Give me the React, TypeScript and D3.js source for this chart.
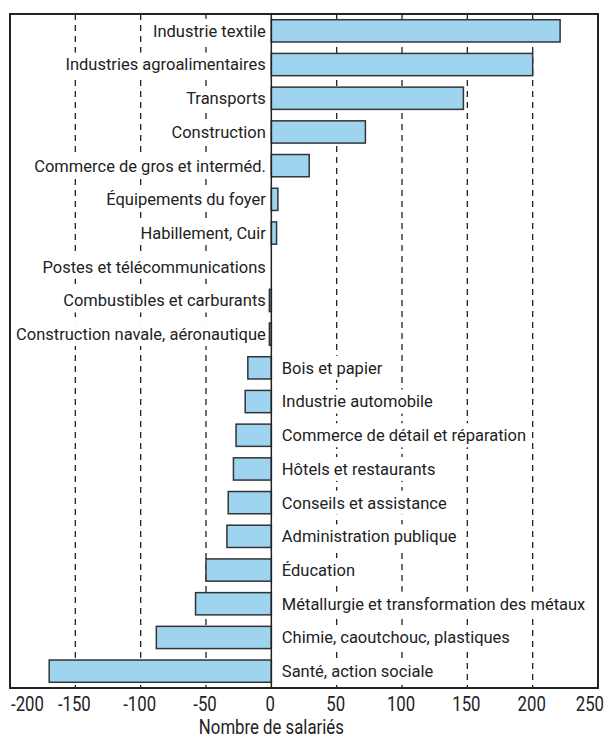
import React, { useLayoutEffect, useRef, useState } from "react";
import * as d3 from "d3";

const categories = [
  "Industrie textile",
  "Industries agroalimentaires",
  "Transports",
  "Construction",
  "Commerce de gros et interméd.",
  "Équipements du foyer",
  "Habillement, Cuir",
  "Postes et télécommunications",
  "Combustibles et carburants",
  "Construction navale, aéronautique",
  "Bois et papier",
  "Industrie automobile",
  "Commerce de détail et réparation",
  "Hôtels et restaurants",
  "Conseils et assistance",
  "Administration publique",
  "Éducation",
  "Métallurgie et transformation des métaux",
  "Chimie, caoutchouc, plastiques",
  "Santé, action sociale",
];
const values = [221, 200, 147, 72, 29, 5, 4, 0, -1.5, -1.5, -18, -20, -27, -29, -33, -34, -50, -58, -88, -170];
const xTicks = [-200, -150, -100, -50, 0, 50, 100, 150, 200, 250];
const xTitle = "Nombre de salariés";

const W = 606;
const H = 739;
const left = 10;
const right = 598;
const top = 14;
const bottom = 688;
const FONT = "Roboto, 'Liberation Sans', sans-serif";

export default function App() {
  const x = d3.scaleLinear().domain([-200, 250]).range([left, right]);
  const y = d3.scaleBand<string>().domain(categories).range([top, bottom]).paddingInner(0.34).paddingOuter(0.17);
  const x0 = x(0);
  const textRefs = useRef<(SVGTextElement | null)[]>([]);
  const [widths, setWidths] = useState<number[]>([]);
  useLayoutEffect(() => {
    setWidths(textRefs.current.map((t) => (t ? t.getComputedTextLength() : 0)));
  }, []);
  const leftLabel = (v: number) => v > -5;
  return (
    <svg width={W} height={H} style={{ position: "absolute", left: 0, top: 0 }}>
      <rect x={0} y={0} width={W} height={H} fill="#fff" />
      {xTicks
        .filter((t) => t !== 0 && t !== -200 && t !== 250)
        .map((t) => (
          <line key={t} x1={x(t)} x2={x(t)} y1={top} y2={bottom} stroke="#222" strokeWidth={1.3} strokeDasharray="6,5" />
        ))}
      {categories.map((c, i) => {
        const v = values[i];
        const yy = y(c)!;
        const bh = y.bandwidth();
        const cy = yy + bh / 2;
        const isLeft = leftLabel(v);
        const tx = isLeft ? x0 - 5.5 : x0 + 10.5;
        const w = widths[i] || 0;
        return (
          <g key={c}>
            {w > 0 && (
              <rect
                x={isLeft ? tx - w - 3 : x0 + 1}
                y={cy - 12}
                width={isLeft ? w + 3 : w + 13}
                height={24}
                fill="#fff"
              />
            )}
            <text
              ref={(el) => {
                textRefs.current[i] = el;
              }}
              x={tx}
              y={cy}
              dy="0.36em"
              textAnchor={isLeft ? "end" : "start"}
              fontFamily={FONT}
              fontSize={16.5}
              fill="#222"
            >
              {c}
            </text>
          </g>
        );
      })}
      {categories.map((c, i) => {
        const v = values[i];
        if (v === 0) return null;
        const yy = y(c)!;
        const bh = y.bandwidth();
        const x1 = Math.min(x(v), x0);
        const w = Math.abs(x(v) - x0);
        return <rect key={c} x={x1} y={yy} width={w} height={bh} fill="#9fd4f1" stroke="#333" strokeWidth={1.5} />;
      })}
      <line x1={x0} x2={x0} y1={top} y2={bottom} stroke="#222" strokeWidth={1.5} />
      <rect x={left} y={top} width={right - left} height={bottom - top} fill="none" stroke="#222" strokeWidth={2} />
      {xTicks.map((t, i) => {
        const px = i === 0 ? left + 1 : i === xTicks.length - 1 ? W - 2 : x(t) - 1;
        const anchor = i === 0 ? "start" : i === xTicks.length - 1 ? "end" : "middle";
        return (
          <text
            key={t}
            transform={`translate(${px},703.5) scale(0.86,1)`}
            dy="0.36em"
            textAnchor={anchor}
            fontFamily={FONT}
            fontSize={19.5}
            fill="#222"
          >
            {t}
          </text>
        );
      })}
      <text
        transform={`translate(${x0},726.5) scale(0.86,1)`}
        dy="0.36em"
        textAnchor="middle"
        fontFamily={FONT}
        fontSize={19.5}
        fill="#222"
      >
        {xTitle}
      </text>
    </svg>
  );
}
